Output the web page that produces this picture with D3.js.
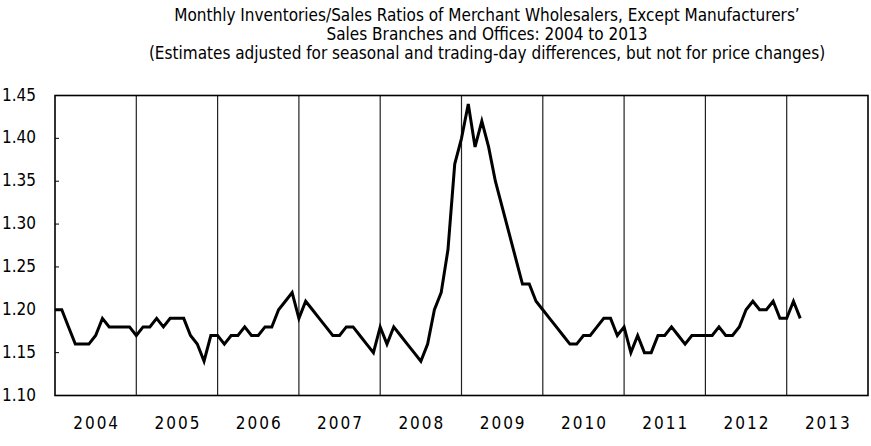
<!DOCTYPE html>
<html><head><meta charset="utf-8">
<script src="https://cdn.jsdelivr.net/npm/d3@7"></script>
<style>body{margin:0;background:#fff}svg{display:block}</style>
</head><body>
<script>
const years = ["2004","2005","2006","2007","2008","2009","2010","2011","2012","2013"];
const yTicks = [1.10,1.15,1.20,1.25,1.30,1.35,1.40,1.45];
// Monthly ratios, Jan 2004 .. Mar 2013
const ratios = [
 1.20,1.20,1.18,1.16,1.16,1.16,1.17,1.19,1.18,1.18,1.18,1.18,
 1.17,1.18,1.18,1.19,1.18,1.19,1.19,1.19,1.17,1.16,1.14,1.17,
 1.17,1.16,1.17,1.17,1.18,1.17,1.17,1.18,1.18,1.20,1.21,1.22,
 1.19,1.21,1.20,1.19,1.18,1.17,1.17,1.18,1.18,1.17,1.16,1.15,
 1.18,1.16,1.18,1.17,1.16,1.15,1.14,1.16,1.20,1.22,1.27,1.37,
 1.40,1.44,1.39,1.42,1.39,1.35,1.32,1.29,1.26,1.23,1.23,1.21,
 1.20,1.19,1.18,1.17,1.16,1.16,1.17,1.17,1.18,1.19,1.19,1.17,
 1.18,1.15,1.17,1.15,1.15,1.17,1.17,1.18,1.17,1.16,1.17,1.17,
 1.17,1.17,1.18,1.17,1.17,1.18,1.20,1.21,1.20,1.20,1.21,1.19,
 1.19,1.21,1.19
];
const titleLines = [
 "Monthly Inventories/Sales Ratios of Merchant Wholesalers, Except Manufacturers’",
 "Sales Branches and Offices: 2004 to 2013",
 "(Estimates adjusted for seasonal and trading-day differences, but not for price changes)"
];

const W = 871, H = 446;
const L = 55, R = 868, T = 95.5, B = 395.5;
const font = "'DejaVu Sans Condensed','DejaVu Sans',sans-serif";
const svg = d3.select("body").append("svg").attr("width", W).attr("height", H);

const x = d3.scaleLinear().domain([0, years.length * 12]).range([L, R]);
const xb = d3.scaleBand().domain(years).range([L, R]);
const y = d3.scaleLinear().domain([1.10, 1.45]).range([B, T]);

// title
svg.append("g").selectAll("text").data(titleLines).join("text")
  .attr("x", 487).attr("y", (d, i) => 21 + i * 19)
  .attr("text-anchor", "middle")
  .attr("font-family", font).attr("font-size", 17).attr("fill", "#000")
  .text(d => d);

// year separators
svg.append("g").selectAll("line").data(years.slice(1)).join("line")
  .attr("x1", d => xb(d)).attr("x2", d => xb(d))
  .attr("y1", T).attr("y2", B)
  .attr("stroke", "#222").attr("stroke-width", 1.2);

// y ticks (small, inside)
svg.append("g").selectAll("line").data(yTicks.slice(1, -1)).join("line")
  .attr("x1", L).attr("x2", L + 4)
  .attr("y1", d => y(d)).attr("y2", d => y(d))
  .attr("stroke", "#000").attr("stroke-width", 1);

// frame
svg.append("rect").attr("x", L).attr("y", T).attr("width", R - L).attr("height", B - T)
  .attr("fill", "none").attr("stroke", "#000").attr("stroke-width", 1.6);

// y labels
svg.append("g").selectAll("text").data(yTicks).join("text")
  .attr("x", 2).attr("y", d => y(d) + 5)
  .attr("font-family", font).attr("font-size", 17).attr("fill", "#000")
  .text(d => d.toFixed(2));

// year labels
svg.append("g").selectAll("text").data(years).join("text")
  .attr("x", d => xb(d) + xb.bandwidth() / 2 + 1).attr("y", 429)
  .attr("text-anchor", "middle")
  .attr("font-family", font).attr("font-size", 17).attr("letter-spacing", 2)
  .attr("fill", "#000")
  .text(d => d);

// line
const line = d3.line().x((d, i) => x(i)).y(d => y(d));
svg.append("path").datum(ratios)
  .attr("d", line).attr("fill", "none")
  .attr("stroke", "#000").attr("stroke-width", 3).attr("stroke-linejoin", "miter");
</script>
</body></html>
